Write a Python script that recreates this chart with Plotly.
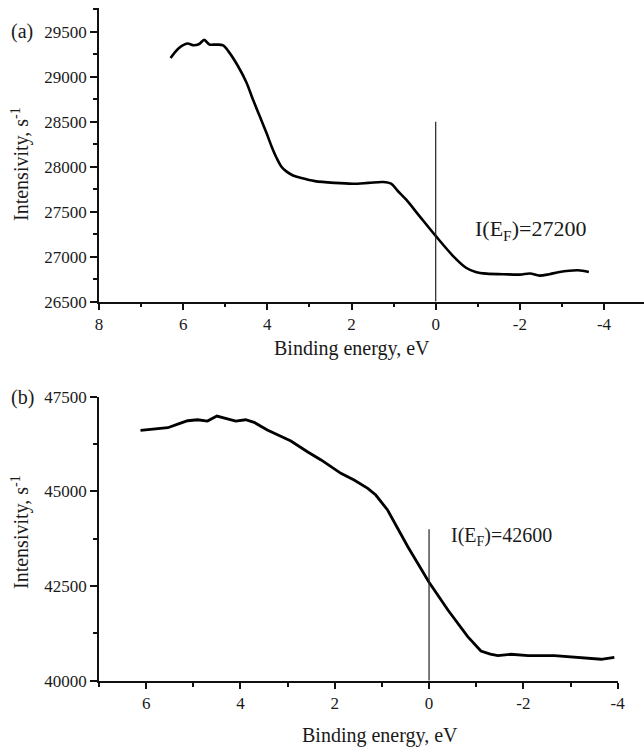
import plotly.graph_objects as go

# Panel (a) data
a_energy = [6.30, 6.10, 5.90, 5.75, 5.62, 5.50, 5.38, 5.22, 5.05, 4.92, 4.70, 4.50, 4.34,
            4.18, 4.02, 3.90, 3.78, 3.67, 3.55, 3.39, 3.19, 2.87, 2.40, 1.97, 1.60, 1.25,
            1.06, 0.90, 0.70, 0.38, 0.00, -0.42, -0.73, -0.95, -1.21, -1.60, -2.00, -2.24,
            -2.47, -2.70, -2.91, -3.38, -3.64]
a_intensity = [29208, 29320, 29370, 29350, 29365, 29410, 29360, 29358, 29350, 29280, 29120,
               28940, 28744, 28560, 28374, 28226, 28097, 28003, 27948, 27903, 27874, 27840,
               27820, 27811, 27820, 27830, 27811, 27730, 27633, 27448, 27230, 27004, 26874,
               26830, 26811, 26805, 26800, 26812, 26789, 26805, 26826, 26848, 26830]
a_fermi_x = [0, 0]
a_fermi_y = [26500, 28500]
a_label = "I(E<sub>F</sub>)=27200"
a_xticks = [8, 6, 4, 2, 0, -2, -4]
a_xticklabels = ["8", "6", "4", "2", "0", "-2", "-4"]
a_yticks = [26500, 27000, 27500, 28000, 28500, 29000, 29500]
a_yticklabels = ["26500", "27000", "27500", "28000", "28500", "29000", "29500"]

# Panel (b) data
b_energy = [6.12, 5.80, 5.54, 5.30, 5.12, 4.91, 4.70, 4.50, 4.35, 4.10, 3.89, 3.71, 3.43,
            2.93, 2.58, 2.29, 1.87, 1.59, 1.30, 1.13, 0.88, 0.45, 0.00, -0.40, -0.82, -1.10,
            -1.30, -1.46, -1.74, -2.10, -2.66, -3.23, -3.65, -3.93]
b_intensity = [46612, 46640, 46681, 46790, 46866, 46892, 46858, 46990, 46945, 46858, 46892,
               46823, 46620, 46330, 46047, 45830, 45476, 45300, 45080, 44904, 44508, 43538,
               42600, 41867, 41162, 40784, 40700, 40660, 40697, 40660, 40660, 40607, 40565,
               40618]
b_fermi_x = [0, 0]
b_fermi_y = [40000, 44000]
b_label = "I(E<sub>F</sub>)=42600"
b_xticks = [6, 4, 2, 0, -2, -4]
b_xticklabels = ["6", "4", "2", "0", "-2", "-4"]
b_yticks = [40000, 42500, 45000, 47500]
b_yticklabels = ["40000", "42500", "45000", "47500"]

x_title = "Binding energy, eV"
y_title = "Intensivity, s<sup>-1</sup>"

W, H = 644, 750
FONT = "Liberation Serif"
TXT = "#1a1a1a"

fig = go.Figure()
fig.add_trace(go.Scatter(x=a_energy, y=a_intensity, mode="lines",
                         line=dict(color="black", width=2.6, shape="spline", smoothing=0.9),
                         xaxis="x", yaxis="y", showlegend=False))
fig.add_trace(go.Scatter(x=a_fermi_x, y=a_fermi_y, mode="lines",
                         line=dict(color="#222", width=1.2),
                         xaxis="x", yaxis="y", showlegend=False))
fig.add_trace(go.Scatter(x=b_energy, y=b_intensity, mode="lines",
                         line=dict(color="black", width=2.8),
                         xaxis="x2", yaxis="y2", showlegend=False))
fig.add_trace(go.Scatter(x=b_fermi_x, y=b_fermi_y, mode="lines",
                         line=dict(color="#222", width=1.2),
                         xaxis="x2", yaxis="y2", showlegend=False))


def px(x):
    return x / W


def py(y):
    return 1 - y / H


axis_common = dict(showline=True, linecolor="#111", linewidth=1.6, showgrid=False,
                   zeroline=False, ticks="outside", tickcolor="#111", tickwidth=1.5,
                   automargin=False, tickmode="array",
                   tickfont=dict(family=FONT, size=17, color=TXT))

fig.update_layout(
    width=W, height=H,
    margin=dict(l=0, r=0, t=0, b=0, autoexpand=False),
    paper_bgcolor="white", plot_bgcolor="white",
    xaxis=dict(domain=[px(99), 1.0], anchor="y", range=[8.001, -4.95],
               tickvals=a_xticks, ticktext=a_xticklabels, ticklen=6,
               minor=dict(dtick=1, tick0=0, ticks="outside", ticklen=3, tickcolor="#111"),
               **axis_common),
    yaxis=dict(domain=[py(301.7), py(8)], anchor="x", range=[26499, 29765],
               tickvals=a_yticks, ticktext=a_yticklabels, ticklen=7,
               minor=dict(dtick=250, tick0=26500, ticks="outside", ticklen=4, tickcolor="#111"),
               **axis_common),
    xaxis2=dict(domain=[px(99), px(617.7)], anchor="y2", range=[7.0, -4.001],
                tickvals=b_xticks, ticktext=b_xticklabels, ticklen=6,
                minor=dict(dtick=1, tick0=0, ticks="outside", ticklen=4, tickcolor="#111"),
                **axis_common),
    yaxis2=dict(domain=[py(680.7), py(396.7)], anchor="x2", range=[39999, 47501],
                tickvals=b_yticks, ticktext=b_yticklabels, ticklen=7,
                minor=dict(dtick=1250, tick0=40000, ticks="outside", ticklen=4, tickcolor="#111"),
                **axis_common),
)

anns = [
    dict(x=px(22), y=py(32), text="(a)", size=20),
    dict(x=px(22), y=py(397), text="(b)", size=20),
    dict(x=px(352), y=py(348), text=x_title, size=20),
    dict(x=px(380), y=py(735), text=x_title, size=20),
    dict(x=px(20), y=py(164), text=y_title, textangle=-90, size=20),
    dict(x=px(20), y=py(532), text=y_title, textangle=-90, size=20),
    dict(x=px(530), y=py(230), text=a_label, size=22),
    dict(x=px(501), y=py(536), text=b_label, size=20),
]
for a in anns:
    size = a.pop("size")
    fig.add_annotation(xref="paper", yref="paper", showarrow=False,
                       xanchor="center", yanchor="middle",
                       font=dict(family=FONT, size=size, color=TXT), **a)

fig.write_html("out.html", config={"displayModeBar": False},
               post_script="document.body.style.margin='0px';document.body.style.padding='0px';")
